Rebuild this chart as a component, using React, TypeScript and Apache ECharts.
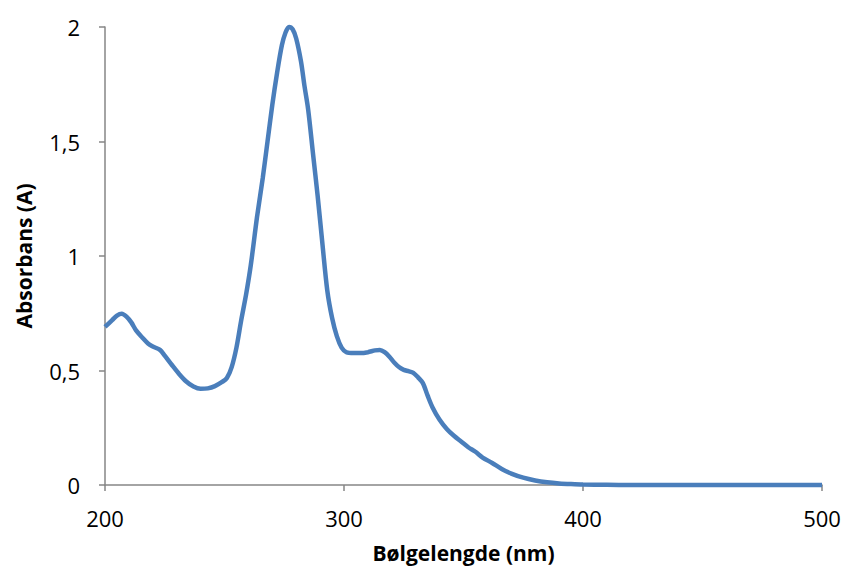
import React, { useEffect, useRef } from "react";
import * as echarts from "echarts";

const wavelengths = [
  200, 203, 205, 207, 209, 211, 213, 215.5, 218, 220, 223, 225, 228, 231, 234, 237, 240, 243, 246, 249,
  251, 253, 255, 257, 259, 261, 263.6, 266, 268, 270, 272, 274, 275.5, 277, 278.5, 280, 282, 283.5, 285,
  287, 289, 291, 293, 295, 297, 299, 301, 304, 307, 310, 313, 315, 317, 319, 321, 323, 325, 327, 329,
  331, 333, 335, 337, 340, 343, 346, 349, 352, 355, 358, 362, 366, 370, 375, 380, 385, 390, 395, 400,
  410, 420, 500,
];
const absorbance = [
  0.69, 0.72, 0.74, 0.748, 0.735, 0.71, 0.675, 0.645, 0.618, 0.605, 0.59, 0.565, 0.524, 0.485, 0.452,
  0.43, 0.42, 0.422, 0.432, 0.45, 0.467, 0.515, 0.6, 0.72, 0.83, 0.96, 1.17, 1.34, 1.5, 1.66, 1.8, 1.92,
  1.975, 2.0, 1.99, 1.95, 1.85, 1.74, 1.64, 1.45, 1.26, 1.05, 0.85, 0.73, 0.65, 0.6, 0.58, 0.576, 0.576,
  0.58, 0.588, 0.59, 0.58, 0.56, 0.535, 0.515, 0.503, 0.497, 0.49, 0.47, 0.445, 0.39, 0.34, 0.285, 0.245,
  0.215, 0.19, 0.165, 0.145, 0.12, 0.096, 0.07, 0.05, 0.032, 0.02, 0.012, 0.007, 0.004, 0.002, 0.001, 0,
  0,
];
const xTicks = [200, 300, 400, 500];
const yTicks = [0, 0.5, 1, 1.5, 2];

const FONT = "'Open Sans', Lato, sans-serif";

export default function App() {
  const ref = useRef<HTMLDivElement>(null);
  useEffect(() => {
    if (!ref.current) return;
    const chart = echarts.init(ref.current, null, { renderer: "svg" });
    const axisLineStyle = { color: "#868686", width: 1.5 };
    chart.setOption({
      animation: false,
      backgroundColor: "#ffffff",
      grid: { left: 105, right: 23, top: 27, bottom: 88 },
      xAxis: {
        type: "value",
        min: xTicks[0],
        max: xTicks[xTicks.length - 1],
        interval: 100,
        name: "Bølgelengde (nm)",
        nameLocation: "middle",
        nameGap: 57,
        nameTextStyle: { fontFamily: FONT, fontSize: 21, fontWeight: "bold", color: "#000" },
        axisLine: { lineStyle: axisLineStyle },
        axisTick: { show: true, length: 6, lineStyle: axisLineStyle },
        splitLine: { show: false },
        axisLabel: { fontFamily: FONT, fontSize: 22, color: "#000", margin: 22 },
      },
      yAxis: {
        type: "value",
        min: yTicks[0],
        max: yTicks[yTicks.length - 1],
        interval: 0.5,
        name: "Absorbans (A)",
        nameLocation: "middle",
        nameGap: 71,
        nameTextStyle: { fontFamily: FONT, fontSize: 21, fontWeight: "bold", color: "#000" },
        axisLine: { show: true, lineStyle: axisLineStyle },
        axisTick: { show: true, length: 6, lineStyle: axisLineStyle },
        splitLine: { show: false },
        axisLabel: {
          fontFamily: FONT,
          fontSize: 22,
          color: "#000",
          margin: 25,
          formatter: (v: number) => String(v).replace(".", ","),
        },
      },
      series: [
        {
          type: "line",
          data: wavelengths.map((w, i) => [w, absorbance[i]]),
          smooth: 0.3,
          showSymbol: false,
          lineStyle: { color: "#4a7ebb", width: 4.5 },
          clip: false,
        },
      ],
    });
    return () => chart.dispose();
  }, []);
  return <div ref={ref} style={{ width: 845, height: 573, position: "absolute", left: 0, top: 0 }} />;
}
